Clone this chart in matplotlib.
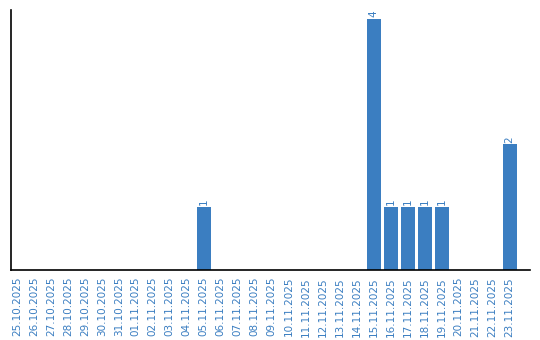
import matplotlib
matplotlib.use('Agg')
import matplotlib.pyplot as plt

dates = ['25.10.2025', '26.10.2025', '27.10.2025', '28.10.2025', '29.10.2025',
         '30.10.2025', '31.10.2025', '01.11.2025', '02.11.2025', '03.11.2025',
         '04.11.2025', '05.11.2025', '06.11.2025', '07.11.2025', '08.11.2025',
         '09.11.2025', '10.11.2025', '11.11.2025', '12.11.2025', '13.11.2025',
         '14.11.2025', '15.11.2025', '16.11.2025', '17.11.2025', '18.11.2025',
         '19.11.2025', '20.11.2025', '21.11.2025', '22.11.2025', '23.11.2025']
counts = [0, 0, 0, 0, 0, 0, 0, 0, 0, 0,
          0, 1, 0, 0, 0, 0, 0, 0, 0, 0,
          0, 4, 1, 1, 1, 1, 0, 0, 0, 2]

blue = '#3b7ec1'

fig = plt.figure(figsize=(5.4, 3.4), dpi=100)
ax = fig.add_axes([11 / 540, 70 / 340, 519 / 540, 260 / 340])

x = list(range(len(dates)))
ax.bar(x, counts, width=0.82, color=blue)

for xi, c in zip(x, counts):
    if c > 0:
        ax.text(xi, c + 0.03, str(c), rotation=90, ha='center', va='bottom',
                color=blue, fontsize=7.5)

ax.set_xlim(-0.35, 30.2)
ax.set_ylim(0, 4.14)
ax.set_xticks(x)
ax.set_xticklabels(dates, rotation=90, color=blue, fontsize=7.5)
ax.tick_params(axis='x', length=0, pad=5)
ax.set_yticks([])
ax.spines['top'].set_visible(False)
ax.spines['right'].set_visible(False)
ax.spines['left'].set_linewidth(1.2)
ax.spines['bottom'].set_linewidth(1.2)

fig.savefig('out.png', dpi=100)
